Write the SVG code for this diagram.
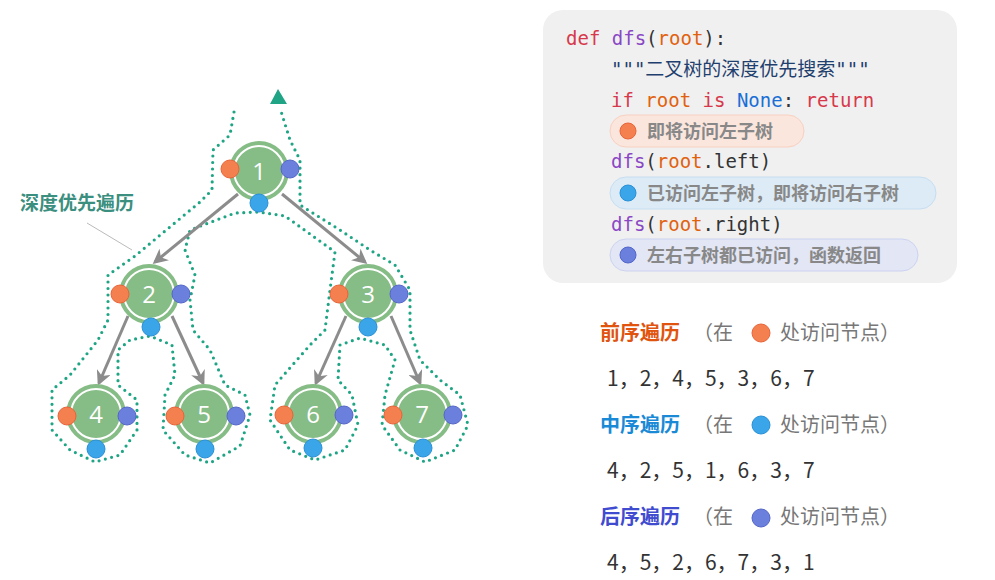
<svg xmlns="http://www.w3.org/2000/svg" width="995" height="580" viewBox="0 0 995 580">
<defs>
<style>
.node circle.b{fill:#86bc86;stroke:#86bc86;stroke-width:2}
.node circle.r{fill:none;stroke:#fff;stroke-width:2}
.node text{font-family:"Open Sans","Liberation Sans",sans-serif;font-size:24px;fill:#fff;text-anchor:middle}
.o{fill:#f5804f;stroke:#e8643a}
.p{fill:#6b7fdc;stroke:#5466c8}
.c{fill:#3aa5e8;stroke:#2a90d6}
.edge{stroke:#8c8c8c;stroke-width:3;fill:none;marker-end:url(#ah)}
.code{font-family:"DejaVu Sans Mono","Liberation Mono",monospace;font-size:19px}
.cn{font-family:"Noto Sans CJK SC",sans-serif}
.kw{fill:#d7394c}.fn{fill:#8a47c5}.ar{fill:#e0620f}.bl{fill:#1a6fd6}.tx{fill:#333}
.bt{font-family:"Noto Sans CJK SC",sans-serif;font-size:18px;font-weight:bold;fill:#888}
.seq{font-family:"Noto Sans CJK SC","Liberation Sans",sans-serif;font-size:21px;fill:#333}
.h{font-family:"Noto Sans CJK SC",sans-serif;font-size:20px;font-weight:bold}
.g{font-family:"Noto Sans CJK SC",sans-serif;font-size:20px;fill:#777}
</style>
<marker id="ah" viewBox="0 0 10 10" refX="8" refY="5" markerWidth="5" markerHeight="5" orient="auto"><path d="M0,0L10,5L0,10L3,5Z" fill="#8c8c8c"/></marker>
</defs>
<rect width="995" height="580" fill="#fff"/>
<path d="M234,112 L230,135 L213,150 L212,190 L200,202 L135,256 L108,275 L108,320 L98,340 L70,375 L52,390 L52,430 L70,450 L95,462 L120,455 L137,430 L137,400 L118,385 L118,350 L130,340 L150,336 L172,345 L175,375 L165,395 L163,430 L185,455 L210,463 L240,446 L250,415 L245,395 L225,385 L210,350 L193,330 L190,300 L195,275 L185,250 L190,230 L235,213 L259,212 L285,216 L335,252 L330,290 L325,330 L310,345 L275,385 L270,420 L290,450 L315,460 L345,450 L358,425 L352,395 L338,380 L340,345 L360,338 L385,345 L395,360 L385,395 L382,425 L400,450 L425,462 L455,450 L468,425 L460,395 L440,380 L420,360 L410,330 L410,290 L395,265 L370,250 L340,230 L300,205 L300,160 L290,140 L280,108" fill="none" stroke="#1fa585" stroke-width="3.2" stroke-dasharray="0 6.5" stroke-linecap="round" stroke-linejoin="round"/>
<polygon points="278,89 270,104 287,104" fill="#1fa585"/>
<g id="label"><text x="20" y="210" font-family="Noto Sans CJK SC,sans-serif" font-size="19" font-weight="bold" fill="#3b8f7f">深度优先遍历</text><line x1="87" y1="223" x2="132" y2="250" stroke="#bbb" stroke-width="1"/></g>
<g id="connectors">
<line class="edge" x1="238" y1="194" x2="155" y2="262"/>
<line class="edge" x1="282" y1="194" x2="365" y2="262"/>
<line class="edge" x1="128" y1="316" x2="99" y2="383"/>
<line class="edge" x1="172" y1="316" x2="203" y2="383"/>
<line class="edge" x1="346" y1="316" x2="316" y2="383"/>
<line class="edge" x1="391" y1="316" x2="420" y2="383"/>
</g>
<g id="n1" class="node"><circle class="b" cx="259" cy="171" r="29"/><circle class="r" cx="259" cy="171" r="25"/><text x="259" y="180">1</text><circle class="o" cx="230" cy="169" r="9"/><circle class="p" cx="290" cy="169" r="9"/><circle class="c" cx="259" cy="203" r="9"/></g>
<g id="n2" class="node"><circle class="b" cx="149" cy="294" r="29"/><circle class="r" cx="149" cy="294" r="25"/><text x="149" y="303">2</text><circle class="o" cx="120" cy="294" r="9"/><circle class="p" cx="181" cy="294" r="9"/><circle class="c" cx="151" cy="327" r="9"/></g>
<g id="n3" class="node"><circle class="b" cx="368" cy="294" r="29"/><circle class="r" cx="368" cy="294" r="25"/><text x="368" y="303">3</text><circle class="o" cx="339" cy="294" r="9"/><circle class="p" cx="399" cy="294" r="9"/><circle class="c" cx="368" cy="327" r="9"/></g>
<g id="n4" class="node"><circle class="b" cx="96" cy="414" r="29"/><circle class="r" cx="96" cy="414" r="25"/><text x="96" y="423">4</text><circle class="o" cx="67" cy="416" r="9"/><circle class="p" cx="127" cy="416" r="9"/><circle class="c" cx="96" cy="449" r="9"/></g>
<g id="n5" class="node"><circle class="b" cx="204" cy="414" r="29"/><circle class="r" cx="204" cy="414" r="25"/><text x="204" y="423">5</text><circle class="o" cx="175" cy="416" r="9"/><circle class="p" cx="236" cy="416" r="9"/><circle class="c" cx="205" cy="449" r="9"/></g>
<g id="n6" class="node"><circle class="b" cx="313" cy="414" r="29"/><circle class="r" cx="313" cy="414" r="25"/><text x="313" y="423">6</text><circle class="o" cx="284" cy="415" r="9"/><circle class="p" cx="344" cy="415" r="9"/><circle class="c" cx="313" cy="448" r="9"/></g>
<g id="n7" class="node"><circle class="b" cx="422" cy="414" r="29"/><circle class="r" cx="422" cy="414" r="25"/><text x="422" y="423">7</text><circle class="o" cx="393" cy="415" r="9"/><circle class="p" cx="453" cy="415" r="9"/><circle class="c" cx="423" cy="448" r="9"/></g>
<g id="code">
<rect x="543" y="10" width="414" height="273" rx="20" fill="#f0f0f0"/>
<text class="code" x="566" y="45"><tspan class="kw">def</tspan> <tspan class="fn">dfs</tspan><tspan class="tx">(</tspan><tspan class="ar">root</tspan><tspan class="tx">):</tspan></text>
<text class="code" x="611" y="76" fill="#1f3f6e">"""<tspan class="cn">二叉树的深度优先搜索</tspan>"""</text>
<text class="code" x="611" y="107"><tspan class="kw">if</tspan> <tspan class="ar">root</tspan> <tspan class="kw">is</tspan> <tspan class="bl">None</tspan><tspan class="tx">:</tspan> <tspan class="kw">return</tspan></text>
<rect x="610" y="115" width="194" height="32" rx="16" fill="#fbe6de" stroke="#f8d0c0"/>
<circle class="o" cx="628" cy="131" r="8"/>
<text class="bt" x="647" y="138">即将访问左子树</text>
<text class="code" x="611" y="168"><tspan class="fn">dfs</tspan><tspan class="tx">(</tspan><tspan class="ar">root</tspan><tspan class="tx">.left)</tspan></text>
<rect x="610" y="177" width="326" height="32" rx="16" fill="#ddebf6" stroke="#c5def2"/>
<circle class="c" cx="628" cy="193" r="8"/>
<text class="bt" x="647" y="200">已访问左子树，即将访问右子树</text>
<text class="code" x="611" y="231"><tspan class="fn">dfs</tspan><tspan class="tx">(</tspan><tspan class="ar">root</tspan><tspan class="tx">.right)</tspan></text>
<rect x="610" y="239" width="308" height="32" rx="16" fill="#e2e6f5" stroke="#ccd3f0"/>
<circle class="p" cx="628" cy="255" r="8"/>
<text class="bt" x="647" y="262">左右子树都已访问，函数返回</text>
</g>
<g id="orders">
<text class="h" x="600" y="340" fill="#e0540f">前序遍历</text><text class="g" x="693" y="340">（在</text><circle class="o" cx="761" cy="333" r="9"/><text class="g" x="780" y="340">处访问节点）</text>
<text class="seq" x="607" y="386">1，2，4，5，3，6，7</text>
<text class="h" x="600" y="432" fill="#1a8ad6">中序遍历</text><text class="g" x="693" y="432">（在</text><circle class="c" cx="761" cy="425" r="9"/><text class="g" x="780" y="432">处访问节点）</text>
<text class="seq" x="607" y="478">4，2，5，1，6，3，7</text>
<text class="h" x="600" y="524" fill="#3f4ccf">后序遍历</text><text class="g" x="693" y="524">（在</text><circle class="p" cx="761" cy="518" r="9"/><text class="g" x="780" y="524">处访问节点）</text>
<text class="seq" x="607" y="570">4，5，2，6，7，3，1</text>
</g>
</svg>
